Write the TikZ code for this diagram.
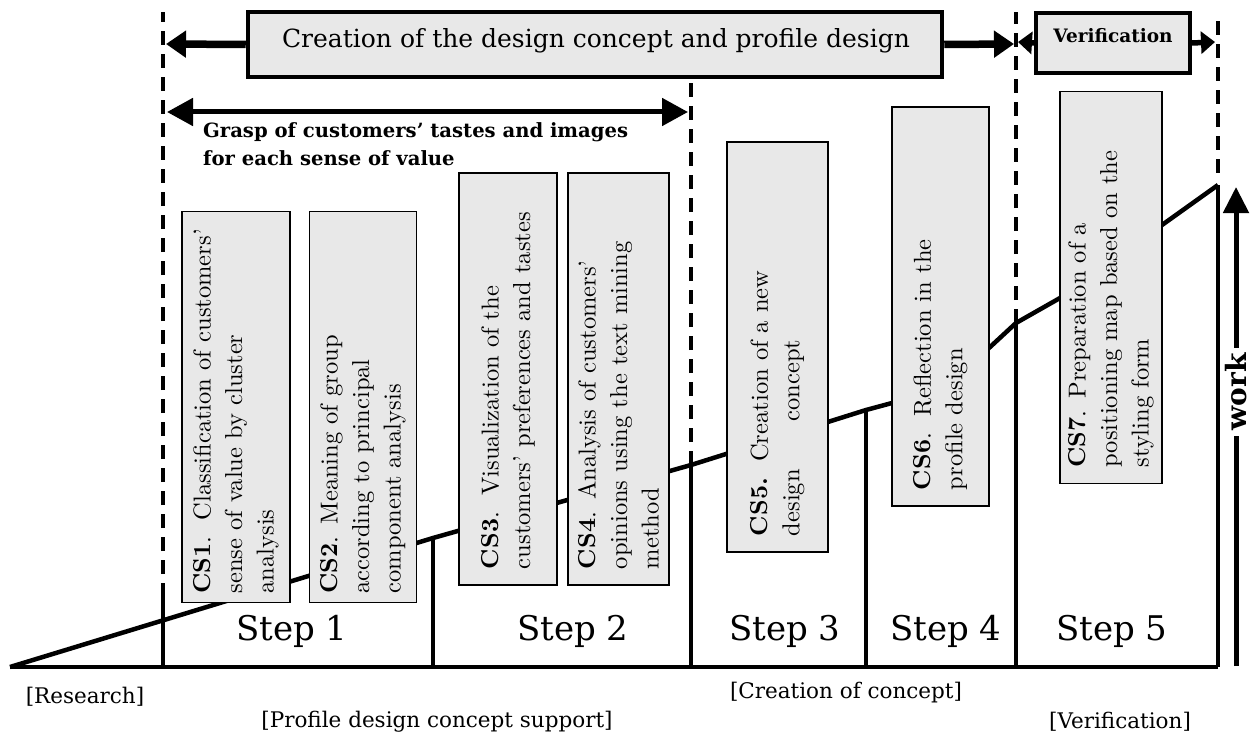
\documentclass[tikz,border=0pt]{standalone}
\usepackage{fontspec}
\newfontfamily\cent{DejaVu Serif}
\newfontfamily\cmten[Extension=.otf, UprightFont=*-regular, BoldFont=*-bold]{lmroman10}
\usetikzlibrary{arrows.meta}
\definecolor{boxgray}{HTML}{E8E8E8}
\begin{document}
\begin{tikzpicture}[x=1pt,y=-1pt,
  csbox/.style={draw=black, line width=1.8pt, fill=boxgray, rotate=90, align=left, inner ysep=0pt, font=\cmten\fontsize{24.5}{31.5}\selectfont},
  dashln/.style={line width=3.2pt, dash pattern=on 14pt off 9pt},
  stepln/.style={line width=3.2pt},
  rampln/.style={line width=4.5pt, line join=miter},
  steplbl/.style={font=\cent\fontsize{34}{38}\selectfont},
  brlbl/.style={font=\cent\fontsize{21.5}{24}\selectfont},
  hdrbox/.style={draw=black, line width=4.5pt, fill=boxgray, inner sep=0pt},
  bigarrow/.style={line width=7.5pt, -{Triangle[length=20pt,width=26pt]}},
  smallarrow/.style={line width=5.5pt, -{Triangle[length=14pt,width=22pt]}},
]
\useasboundingbox (0,0) rectangle (1252,738);

% ramp and baseline points
\coordinate (r0) at (10,667);
\coordinate (r1) at (433,538);
\coordinate (r2) at (691,465);
\coordinate (r3) at (866,410);
\coordinate (r3b) at (892,403);
\coordinate (r3c) at (989,348);
\coordinate (r4) at (1016,323);
\coordinate (r4b) at (1060,298);
\coordinate (r4c) at (1162,225);
\coordinate (r5) at (1218,185);
\coordinate (b0) at (163,667);
\coordinate (b1) at (433,667);
\coordinate (b2) at (691,667);
\coordinate (b3) at (866,667);
\coordinate (b4) at (1016,667);
\coordinate (b5) at (1218,667);
\coordinate (s0) at (163,597);
\coordinate (t0) at (163,12);
\coordinate (t2) at (691,82);
\coordinate (t4) at (1016,12);
\coordinate (t5) at (1218,12);
\coordinate (u5) at (1218,173);

% baseline, ramp
\draw[rampln] (r0) -- (b5);
\draw[rampln] (r0) -- (r1) -- (r2) -- (r3) -- (r3b) -- (r3c) -- (r4) -- (r4b) -- (r4c) -- (r5);

% step separators
\draw[stepln] (b0) -- (s0);
\draw[dashln] (s0) -- (t0);
\draw[stepln] (b1) -- (r1);
\draw[stepln] (b2) -- (r2);
\draw[dashln] (r2) -- (t2);
\draw[stepln] (b3) -- (r3);
\draw[stepln] (b4) -- (r4);
\draw[dashln] (r4) -- (t4);
\draw[stepln] (b5) -- (r5);
\draw[dashln] (u5) -- (t5);

% header
\node[hdrbox, minimum width=694pt, minimum height=65pt] (hdr) at (595,44.5) {};
\node[font=\cent\fontsize{25}{28}\selectfont] (hdrt) at (596,41) {Creation of the design concept and profile design};
\coordinate (hl) at (166,44);
\coordinate (hr) at (1014,44);
\draw[bigarrow] (hdr.west) -- (hl);
\draw[bigarrow] (hdr.east) -- (hr);

\node[hdrbox, minimum width=154pt, minimum height=60pt, line width=4pt] (ver) at (1113,43) {};
\node[font=\cent\bfseries\fontsize{18.5}{22}\selectfont] (vert) at (1113,36) {Verification};
\coordinate (vl) at (1018,42);
\coordinate (vr) at (1215,42);
\draw[smallarrow] (ver.west) -- (vl);
\draw[smallarrow] (ver.east) -- (vr);

% grasp arrow
\coordinate (gl) at (167,112);
\coordinate (gr) at (688,112);
\draw[line width=5pt, {Triangle[length=26pt,width=27pt]}-{Triangle[length=26pt,width=27pt]}] (gl) -- (gr);
\node[anchor=north west, align=left, inner sep=0pt, font=\cent\bfseries\fontsize{19.6}{28}\selectfont] (grasp) at (203,122) {Grasp of customers’ tastes and images\\for each sense of value};

% CS boxes
\node[csbox, inner xsep=9pt, text width=373pt, minimum height=108pt] (cs1) at (236,407) {\textbf{CS1}. \,Classification of customers’\\sense of value by cluster\\analysis};
\node[csbox, inner xsep=9pt, text width=373pt, minimum height=107pt] (cs2) at (363,407) {\textbf{CS2}. Meaning of group\\according to principal\\component analysis};
\node[csbox, inner xsep=16pt, text width=380pt, minimum height=98pt] (cs3) at (508,379) {\textbf{CS3}. \,Visualization of the\\customers’ preferences and tastes};
\node[csbox, inner xsep=16pt, text width=380pt, minimum height=101pt] (cs4) at (618.5,379) {\textbf{CS4}. Analysis of customers’\\opinions using the text mining\\method};
\node[csbox, inner xsep=16pt, text width=378pt, minimum height=101pt] (cs5) at (777.5,347) {\textbf{CS5.} \,Creation of a new\\design\hspace{48pt}concept};
\node[csbox, inner xsep=16pt, text width=367pt, minimum height=97pt] (cs6) at (940.5,306.5) {\textbf{CS6}. \,Reflection in the\\profile design};
\node[csbox, inner xsep=16pt, text width=360pt, minimum height=102pt] (cs7) at (1111,287.5) {\textbf{CS7}. Preparation of a\\positioning map based on the\\styling form};

% work arrow
\coordinate (wb) at (1236,666);
\coordinate (wt) at (1236,187);
\draw[line width=5pt, -{Triangle[length=26pt,width=25pt]}] (wb) -- (wt);
\node[rotate=90, fill=white, inner xsep=6pt, inner ysep=1pt, font=\cent\bfseries\fontsize{28}{30}\selectfont] (work) at (1236,392) {work};

% step labels
\node[steplbl] (st1) at (292,631) {Step 1};
\node[steplbl] (st2) at (573,631) {Step 2};
\node[steplbl] (st3) at (785,631) {Step 3};
\node[steplbl] (st4) at (946,631) {Step 4};
\node[steplbl] (st5) at (1112,631) {Step 5};

% phase labels
\node[brlbl] (ph1) at (85,697) {[Research]};
\node[brlbl] (ph2) at (437,722) {[Profile design concept support]};
\node[brlbl] (ph3) at (846,693) {[Creation of concept]};
\node[brlbl] (ph4) at (1120,722) {[Verification]};
\end{tikzpicture}
\end{document}
